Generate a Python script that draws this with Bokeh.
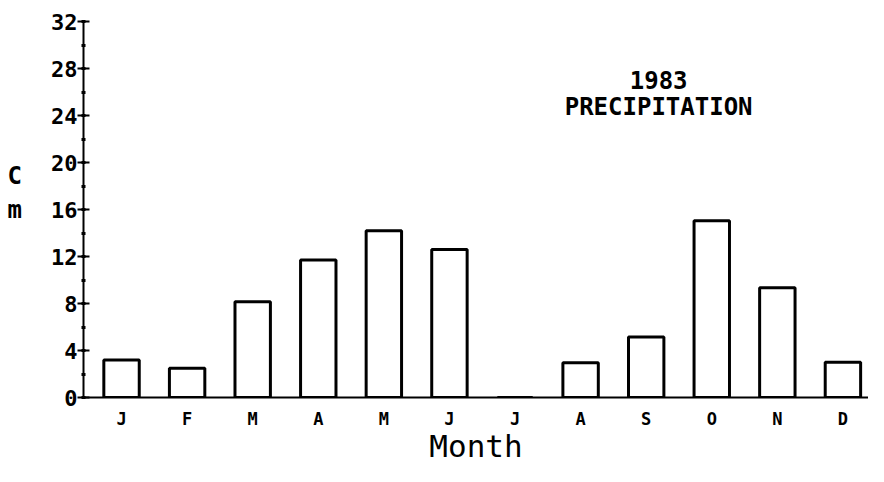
from bokeh.plotting import figure
from bokeh.models import Range1d, FixedTicker, SingleIntervalTicker, Label
from bokeh.embed import file_html
from bokeh.resources import INLINE

month_labels = ["J", "F", "M", "A", "M", "J", "J", "A", "S", "O", "N", "D"]
month_index = [1, 2, 3, 4, 5, 6, 7, 8, 9, 10, 11, 12]
precip_cm = [3.2, 2.5, 8.15, 11.7, 14.2, 12.6, 0.0, 2.95, 5.15, 15.05, 9.35, 3.0]

FONT = "DejaVu Sans Mono"

p = figure(width=868, height=466, output_backend="svg", toolbar_location=None,
           x_range=Range1d(0.42, 12.39), y_range=Range1d(0, 32),
           min_border_left=83, min_border_right=0, min_border_top=21, min_border_bottom=68)
p.outline_line_color = None
p.xgrid.visible = False
p.ygrid.visible = False
p.background_fill_color = "white"
p.border_fill_color = "white"

p.vbar(x=month_index, top=precip_cm, bottom=0, width=0.54,
       fill_color="white", line_color="black", line_width=3)

# y axis
ya = p.yaxis[0]
ya.ticker = SingleIntervalTicker(interval=4, num_minor_ticks=2)
ya.axis_line_width = 2
ya.axis_line_color = "black"
ya.major_tick_line_width = 2
ya.major_tick_out = 6
ya.major_tick_in = 6
ya.minor_tick_line_width = 3
ya.minor_tick_out = 2
ya.minor_tick_in = 2
ya.major_label_standoff = 0
ya.major_label_text_font = FONT
ya.major_label_text_font_style = "bold"
ya.major_label_text_font_size = "22px"
ya.major_label_text_color = "black"
ya.axis_label = "C\nm\n "
ya.axis_label_orientation = "horizontal"
ya.axis_label_standoff = 26
ya.axis_label_text_font = FONT
ya.axis_label_text_font_style = "bold"
ya.axis_label_text_font_size = "24px"
ya.axis_label_text_color = "black"

# x axis
xa = p.xaxis[0]
xa.ticker = FixedTicker(ticks=month_index)
xa.major_label_overrides = {m: lab for m, lab in zip(month_index, month_labels)}
xa.axis_line_width = 2
xa.axis_line_color = "black"
xa.major_tick_out = 0
xa.major_tick_in = 0
xa.minor_tick_out = 0
xa.minor_tick_in = 0
xa.major_label_standoff = 11
xa.major_label_text_font = FONT
xa.major_label_text_font_style = "bold"
xa.major_label_text_font_size = "17px"
xa.major_label_text_color = "black"
xa.axis_label = "Month"
xa.axis_label_text_font = FONT
xa.axis_label_text_font_style = "normal"
xa.axis_label_text_font_size = "31px"
xa.axis_label_text_color = "black"
xa.axis_label_standoff = -4

# title lines
for txt, yy in [("1983", 27.0), ("PRECIPITATION", 24.7)]:
    p.add_layout(Label(x=9.19, y=yy, text=txt, text_align="center", text_baseline="middle",
                       text_font=FONT, text_font_style="bold", text_font_size="24px",
                       text_color="black"))

open("out.html", "w").write(file_html(p, INLINE))
